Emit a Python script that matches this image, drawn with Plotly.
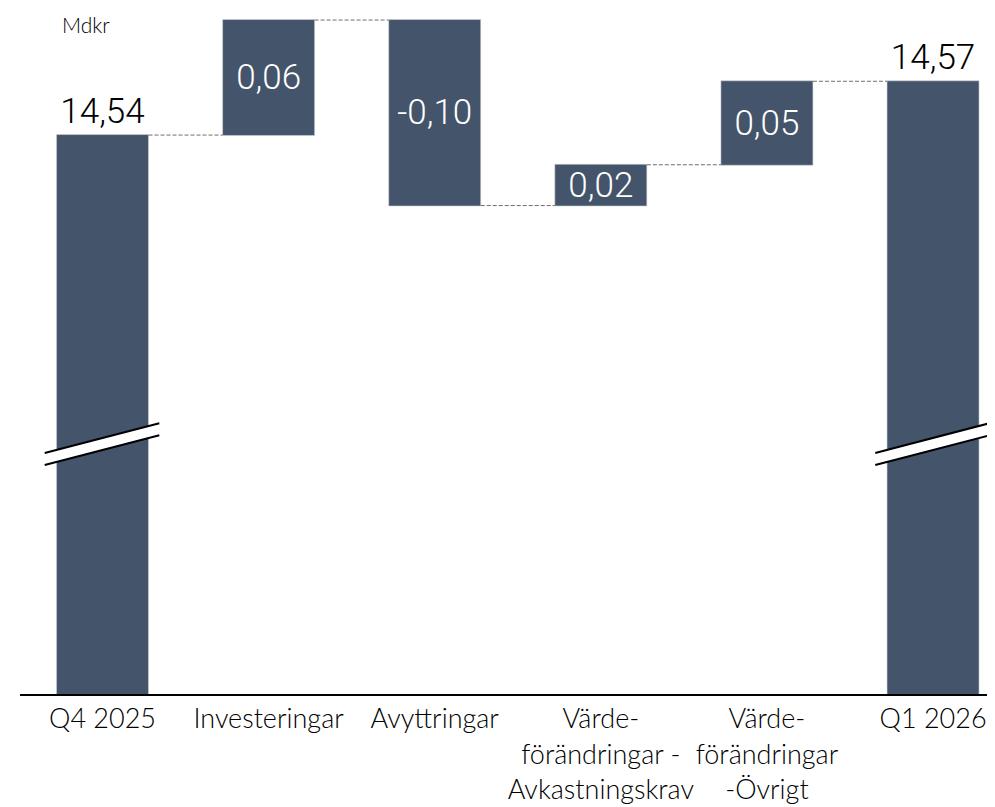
import plotly.graph_objects as go

# ---- data ----
categories = ["Q4 2025", "Investeringar", "Avyttringar",
              "Värde-<br>förändringar -<br>Avkastningskrav",
              "Värde-<br>förändringar<br>-Övrigt", "Q1 2026"]
measures = ["absolute", "relative", "relative", "relative", "relative", "total"]
values = [14.54, 0.062, -0.100, 0.022, 0.045, 0]
labels = ["14,54", "0,06", "-0,10", "0,02", "0,05", "14,57"]
unit_label = "Mdkr"

BAR = "#44546A"
VAL_FONT = "Roboto"
CAT_FONT = "Lato"

fig = go.Figure()
fig.add_trace(go.Waterfall(
    x=categories, y=values, measure=measures,
    text=labels,
    textposition=["outside", "inside", "inside", "inside", "inside", "outside"],
    insidetextanchor="middle",
    textfont=dict(family=VAL_FONT, size=35, weight=300),
    outsidetextfont=dict(family=VAL_FONT, size=35, color="black", weight=300),
    insidetextfont=dict(family=VAL_FONT, size=35, color="white", weight=300),
    increasing=dict(marker=dict(color=BAR, line=dict(color="#d0d4da", width=0.6))),
    decreasing=dict(marker=dict(color=BAR, line=dict(color="#d0d4da", width=0.6))),
    totals=dict(marker=dict(color=BAR, line=dict(color="#d0d4da", width=0.6))),
    connector=dict(line=dict(color="#6e6e6e", width=1, dash="4px,2px"), mode="between"),
    cliponaxis=False,
    hoverinfo="skip",
))

# axis range (broken axis: bottom is not zero)
y_lo, y_hi = 14.2387, 14.6085
x_lo, x_hi = -0.4967, 5.373

# axis-break markers on the two total bars
break_y = 14.3734     # mid level of break band
slope = 0.0161        # rise across the marker
gap = 0.0065          # band thickness
shapes = []
for idx in (0, 5):
    xa, xb = idx - 0.348, idx + 0.342
    ya_top, yb_top = break_y - slope / 2 + gap / 2, break_y + slope / 2 + gap / 2
    ya_bot, yb_bot = ya_top - gap, yb_top - gap
    shapes.append(dict(type="path", xref="x", yref="y",
                       path=f"M {xa},{ya_top} L {xb},{yb_top} L {xb},{yb_bot} L {xa},{ya_bot} Z",
                       fillcolor="white", line=dict(width=0)))
    shapes.append(dict(type="line", xref="x", yref="y", x0=xa, y0=ya_top, x1=xb, y1=yb_top,
                       line=dict(color="black", width=2)))
    shapes.append(dict(type="line", xref="x", yref="y", x0=xa, y0=ya_bot, x1=xb, y1=yb_bot,
                       line=dict(color="black", width=2)))

fig.update_layout(
    width=987, height=799,
    margin=dict(l=12, r=0, t=0, b=113),
    paper_bgcolor="white", plot_bgcolor="white",
    showlegend=False,
    waterfallgap=0.446,
    uniformtext=dict(minsize=35, mode="show"),
    shapes=shapes,
    annotations=[dict(text=unit_label, xref="paper", yref="paper", x=40 / 975, y=1,
                      xanchor="left", yanchor="top", yshift=-2, showarrow=False,
                      font=dict(family=CAT_FONT, size=21, color="black", weight=300))],
    xaxis=dict(range=[x_lo, x_hi], showline=True, linecolor="black", linewidth=2,
               ticks="", showgrid=False, zeroline=False, tickangle=0, automargin=False,
               tickfont=dict(family=CAT_FONT, size=27, color="black", weight=300)),
    yaxis=dict(range=[y_lo, y_hi], visible=False, showgrid=False, zeroline=False,
               automargin=False),
)

fig.write_html("out.html")
